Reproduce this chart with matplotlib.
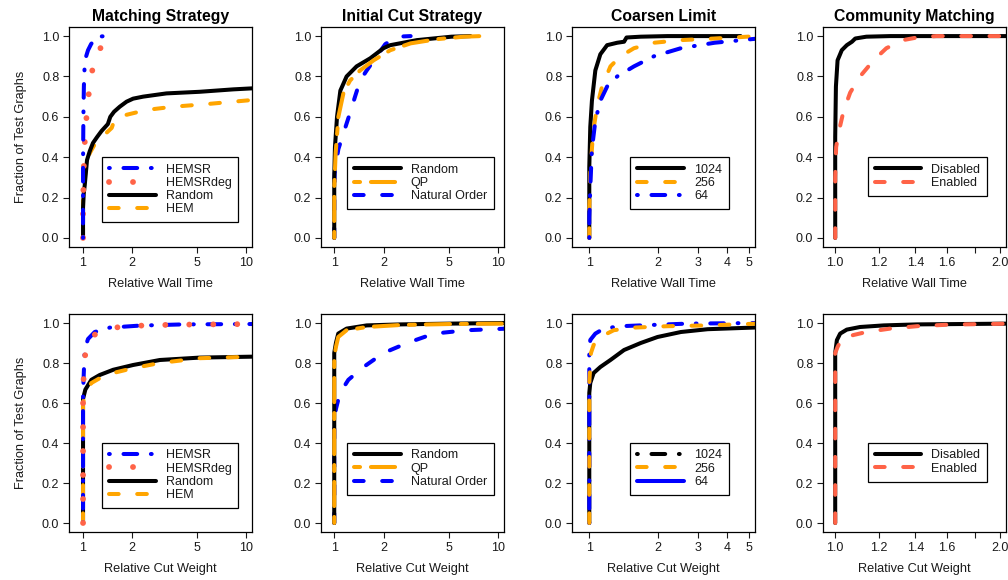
import numpy as np
import matplotlib.pyplot as plt
from matplotlib.lines import Line2D

plt.rcParams['font.family'] = ['Liberation Sans', 'DejaVu Sans']

BLUE = '#0000FF'
ORANGE = '#FFA500'
TOMATO = '#FF6347'

# ---- data (relative value, fraction of graphs) ----
# matching strategy, wall time
ms_wall_hemsr_x = [1.0, 1.0, 1.005, 1.012, 1.024, 1.045, 1.073, 1.12, 1.21, 1.39, 1.53]
ms_wall_hemsr_y = [0.0, 0.37, 0.6, 0.75, 0.865, 0.9, 0.93, 0.96, 0.997, 1.0, 1.0]
ms_wall_deg_x = [1.0, 1.0, 1.005, 1.012, 1.024, 1.048, 1.083, 1.14, 1.25, 1.4, 1.62]
ms_wall_deg_y = [0.0, 0.12, 0.24, 0.36, 0.47, 0.59, 0.71, 0.83, 0.93, 0.98, 0.995]
ms_wall_rand_x = [1.0, 1.0, 1.01, 1.024, 1.058, 1.1, 1.15, 1.22, 1.3, 1.42, 1.47, 1.55, 1.68, 1.85, 2.03, 2.34, 3.25, 5.2, 8.36, 11.5]
ms_wall_rand_y = [0.0, 0.15, 0.22, 0.26, 0.386, 0.43, 0.47, 0.5, 0.53, 0.564, 0.6, 0.625, 0.65, 0.675, 0.69, 0.70, 0.716, 0.724, 0.736, 0.742]
ms_wall_hem_x = [1.0, 1.0, 1.024, 1.06, 1.1, 1.21, 1.39, 1.5, 1.56, 1.7, 1.85, 2.45, 3.57, 5.73, 11.5]
ms_wall_hem_y = [0.0, 0.2, 0.30, 0.37, 0.42, 0.48, 0.52, 0.545, 0.585, 0.6, 0.61, 0.634, 0.65, 0.663, 0.685]

# initial cut strategy, wall time
ic_wall_rand_x = [1.0, 1.0, 1.01, 1.04, 1.09, 1.19, 1.37, 1.66, 2.0, 2.2, 3.2, 5.2, 6.8]
ic_wall_rand_y = [0.0, 0.3, 0.45, 0.60, 0.73, 0.80, 0.85, 0.89, 0.94, 0.955, 0.98, 0.997, 1.0]
ic_wall_qp_x = [1.0, 1.0, 1.02, 1.06, 1.14, 1.25, 1.44, 1.74, 2.2, 2.93, 4.27, 6.2, 7.9]
ic_wall_qp_y = [0.0, 0.25, 0.42, 0.6, 0.72, 0.78, 0.83, 0.88, 0.93, 0.964, 0.985, 0.997, 1.0]
ic_wall_nat_x = [1.0, 1.0, 1.006, 1.03, 1.06, 1.14, 1.25, 1.34, 1.44, 1.58, 1.82, 2.05, 2.42, 2.93]
ic_wall_nat_y = [0.0, 0.2, 0.32, 0.38, 0.44, 0.52, 0.62, 0.70, 0.78, 0.83, 0.90, 0.96, 0.997, 1.0]

# coarsen limit, wall time
cl_wall_1024_x = [1.0, 1.0, 1.01, 1.027, 1.063, 1.118, 1.197, 1.325, 1.42, 1.456, 1.68, 2.2, 4.6]
cl_wall_1024_y = [0.0, 0.35, 0.55, 0.68, 0.83, 0.91, 0.955, 0.967, 0.972, 0.993, 0.997, 1.0, 1.0]
cl_wall_256_x = [1.0, 1.0, 1.01, 1.038, 1.081, 1.137, 1.238, 1.37, 1.57, 1.92, 2.52, 3.54, 5.5]
cl_wall_256_y = [0.0, 0.15, 0.32, 0.52, 0.65, 0.75, 0.85, 0.90, 0.94, 0.967, 0.98, 0.988, 1.0]
cl_wall_64_x = [1.0, 1.0, 1.01, 1.027, 1.063, 1.118, 1.197, 1.325, 1.57, 1.92, 2.52, 3.54, 5.5]
cl_wall_64_y = [0.0, 0.1, 0.25, 0.44, 0.58, 0.68, 0.75, 0.80, 0.85, 0.90, 0.94, 0.967, 0.988]

# community matching, wall time
cm_wall_dis_x = [1.0, 1.0, 1.003, 1.01, 1.028, 1.05, 1.073, 1.088, 1.14, 1.26, 2.1]
cm_wall_dis_y = [0.0, 0.5, 0.75, 0.88, 0.93, 0.955, 0.972, 0.988, 0.997, 1.0, 1.0]
cm_wall_en_x = [1.0, 1.0, 1.004, 1.014, 1.036, 1.065, 1.11, 1.175, 1.24, 1.33, 1.41, 1.53, 2.1]
cm_wall_en_y = [0.0, 0.3, 0.45, 0.52, 0.63, 0.72, 0.80, 0.88, 0.94, 0.98, 0.993, 1.0, 1.0]

# matching strategy, cut weight
ms_cut_hemsr_x = [1.0, 1.0, 1.014, 1.024, 1.073, 1.18, 1.46, 2.23, 4.1, 11.5]
ms_cut_hemsr_y = [0.0, 0.65, 0.78, 0.87, 0.92, 0.955, 0.977, 0.987, 0.993, 0.995]
ms_cut_deg_x = [1.0, 1.0, 1.01, 1.024, 1.1, 1.25, 1.55, 2.1, 3.0, 4.2, 6.0, 8.5, 11.5]
ms_cut_deg_y = [0.0, 0.6, 0.75, 0.83, 0.925, 0.955, 0.977, 0.986, 0.99, 0.992, 0.993, 0.994, 0.995]
ms_cut_rand_x = [1.0, 1.0, 1.033, 1.125, 1.266, 1.53, 2.03, 2.96, 5.2, 11.5]
ms_cut_rand_y = [0.0, 0.62, 0.667, 0.716, 0.74, 0.766, 0.79, 0.815, 0.827, 0.832]
ms_cut_hem_x = [1.0, 1.0, 1.033, 1.125, 1.266, 1.53, 2.03, 2.96, 5.2, 11.5]
ms_cut_hem_y = [0.0, 0.6, 0.65, 0.70, 0.724, 0.75, 0.774, 0.80, 0.824, 0.832]

# initial cut strategy, cut weight
ic_cut_rand_x = [1.0, 1.0, 1.024, 1.058, 1.19, 1.58, 2.54, 5.16, 11.5]
ic_cut_rand_y = [0.0, 0.85, 0.90, 0.947, 0.972, 0.988, 0.993, 0.997, 1.0]
ic_cut_qp_x = [1.0, 1.0, 1.024, 1.058, 1.19, 1.58, 2.54, 5.16, 11.5]
ic_cut_qp_y = [0.0, 0.83, 0.88, 0.93, 0.964, 0.98, 0.99, 0.995, 0.997]
ic_cut_nat_x = [1.0, 1.0, 1.024, 1.084, 1.22, 1.51, 2.0, 2.79, 4.07, 6.5, 11.5]
ic_cut_nat_y = [0.0, 0.5, 0.57, 0.65, 0.716, 0.78, 0.85, 0.90, 0.947, 0.964, 0.972]

# coarsen limit, cut weight
cl_cut_1024_x = [1.0, 1.0, 1.01, 1.045, 1.118, 1.238, 1.42, 1.68, 1.99, 2.52, 3.3, 5.5]
cl_cut_1024_y = [0.0, 0.65, 0.70, 0.75, 0.78, 0.815, 0.865, 0.90, 0.93, 0.955, 0.969, 0.978]
cl_cut_256_x = [1.0, 1.0, 1.017, 1.045, 1.118, 1.28, 1.57, 2.2, 3.3, 5.5]
cl_cut_256_y = [0.0, 0.70, 0.85, 0.89, 0.93, 0.964, 0.977, 0.984, 0.988, 0.997]
cl_cut_64_x = [1.0, 1.0, 1.01, 1.063, 1.157, 1.37, 1.86, 2.7, 5.5]
cl_cut_64_y = [0.0, 0.85, 0.915, 0.947, 0.972, 0.984, 0.99, 0.997, 1.0]

# community matching, cut weight
cm_cut_dis_x = [1.0, 1.0, 1.007, 1.021, 1.05, 1.11, 1.226, 1.41, 2.1]
cm_cut_dis_y = [0.0, 0.85, 0.914, 0.947, 0.967, 0.98, 0.988, 0.993, 0.997]
cm_cut_en_x = [1.0, 1.0, 1.01, 1.028, 1.08, 1.14, 1.26, 1.41, 1.62, 2.1]
cm_cut_en_y = [0.0, 0.85, 0.88, 0.922, 0.94, 0.955, 0.972, 0.984, 0.992, 0.997]

titles = ['Matching Strategy', 'Initial Cut Strategy', 'Coarsen Limit', 'Community Matching']
xlabels = ['Relative Wall Time', 'Relative Cut Weight']
ms_labels = ['HEMSR', 'HEMSRdeg', 'Random', 'HEM']
ic_labels = ['Random', 'QP', 'Natural Order']
cl_labels = ['1024', '256', '64']
cm_labels = ['Disabled', 'Enabled']

xlims = [(0.82, 10.9), (0.83, 10.9), (0.84, 5.32), (0.95, 2.05)]
xticks = [[1, 2, 5, 10], [1, 2, 5, 10], [1, 2, 3, 4, 5], [1.0, 1.2, 1.4, 1.6, 1.8, 2.0]]
xticklabels = [['1', '2', '5', '10'], ['1', '2', '5', '10'], ['1', '2', '3', '4', '5'],
               ['1.0', '1.2', '1.4', '1.6', '', '2.0']]

# line styles (R-like lty, round ends)
LW = 2.9
STY = {
    'solid': dict(ls='-', lw=LW),
    'dashed': dict(ls=(0, (2.4, 4.6)), lw=LW),
    'dotdash': dict(ls=(0, (0.2, 3.4, 3.4, 3.4)), lw=LW),
    'twodash': dict(ls=(0, (1.5, 2.7, 6.0, 2.7)), lw=LW),
    'dotted': dict(ls=(0, (0.01, 4.1)), lw=4.2),
}


def line(ax, x, y, color, sty):
    ax.plot(x, y, color=color, dash_capstyle='round', solid_capstyle='round', **STY[sty])


def handle(color, sty):
    return Line2D([], [], color=color, dash_capstyle='round', solid_capstyle='round', **STY[sty])


fig = plt.figure(figsize=(10.08, 5.8), dpi=100)
W, H = 1008.0, 580.0
lefts = [69, 321, 572, 823]
rows = [(27, 247), (314, 532)]
leg_cx = [0.552, 0.544, 0.588, 0.571]

axes = []
for r, (top, bot) in enumerate(rows):
    for c in range(4):
        ax = fig.add_axes([lefts[c] / W, 1 - bot / H, 183 / W, (bot - top) / H])
        ax.set_xscale('log')
        ax.set_xlim(*xlims[c])
        ax.set_ylim(-0.045, 1.045)
        ax.set_xticks(xticks[c])
        ax.set_xticklabels(xticklabels[c])
        ax.xaxis.set_minor_locator(plt.NullLocator())
        ax.set_yticks([0, 0.2, 0.4, 0.6, 0.8, 1.0])
        ax.set_yticklabels(['0.0', '0.2', '0.4', '0.6', '0.8', '1.0'])
        ax.tick_params(direction='out', length=4.5, width=0.8, labelsize=9, pad=2.5, colors='#1a1a1a')
        ax.tick_params(axis='x', pad=2.5)
        for s in ax.spines.values():
            s.set_linewidth(0.9)
        ax.set_xlabel(xlabels[r], fontsize=9.2, labelpad=6.5, color='#1a1a1a')
        if c == 0:
            ax.set_ylabel('Fraction of Test Graphs', fontsize=9.2, labelpad=11, color='#1a1a1a')
        if r == 0:
            ax.set_title(titles[c], fontsize=11.3, fontweight='bold', pad=4)
        axes.append(ax)

# ---- top row: wall time ----
ax = axes[0]
line(ax, ms_wall_hem_x, ms_wall_hem_y, ORANGE, 'dashed')
line(ax, ms_wall_rand_x, ms_wall_rand_y, 'black', 'solid')
line(ax, ms_wall_deg_x, ms_wall_deg_y, TOMATO, 'dotted')
line(ax, ms_wall_hemsr_x, ms_wall_hemsr_y, BLUE, 'dotdash')

ax = axes[1]
line(ax, ic_wall_nat_x, ic_wall_nat_y, BLUE, 'dashed')
line(ax, ic_wall_rand_x, ic_wall_rand_y, 'black', 'solid')
line(ax, ic_wall_qp_x, ic_wall_qp_y, ORANGE, 'twodash')

ax = axes[2]
line(ax, cl_wall_1024_x, cl_wall_1024_y, 'black', 'solid')
line(ax, cl_wall_256_x, cl_wall_256_y, ORANGE, 'dashed')
line(ax, cl_wall_64_x, cl_wall_64_y, BLUE, 'dotdash')

ax = axes[3]
line(ax, cm_wall_dis_x, cm_wall_dis_y, 'black', 'solid')
line(ax, cm_wall_en_x, cm_wall_en_y, TOMATO, 'dashed')

# ---- bottom row: cut weight ----
ax = axes[4]
line(ax, ms_cut_rand_x, ms_cut_rand_y, 'black', 'solid')
line(ax, ms_cut_hem_x, ms_cut_hem_y, ORANGE, 'dashed')
line(ax, ms_cut_hemsr_x, ms_cut_hemsr_y, BLUE, 'dotdash')
line(ax, ms_cut_deg_x, ms_cut_deg_y, TOMATO, 'dotted')

ax = axes[5]
line(ax, ic_cut_nat_x, ic_cut_nat_y, BLUE, 'dashed')
line(ax, ic_cut_rand_x, ic_cut_rand_y, 'black', 'solid')
line(ax, ic_cut_qp_x, ic_cut_qp_y, ORANGE, 'twodash')

ax = axes[6]
line(ax, cl_cut_1024_x, cl_cut_1024_y, 'black', 'solid')
line(ax, cl_cut_64_x, cl_cut_64_y, BLUE, 'dotdash')
line(ax, cl_cut_256_x, cl_cut_256_y, ORANGE, 'dashed')

ax = axes[7]
line(ax, cm_cut_dis_x, cm_cut_dis_y, 'black', 'solid')
line(ax, cm_cut_en_x, cm_cut_en_y, TOMATO, 'dashed')

# ---- legends ----
ms_h = [handle(BLUE, 'dotdash'), handle(TOMATO, 'dotted'), handle('black', 'solid'), handle(ORANGE, 'dashed')]
ic_h = [handle('black', 'solid'), handle(ORANGE, 'twodash'), handle(BLUE, 'dashed')]
cl_top_h = [handle('black', 'solid'), handle(ORANGE, 'dashed'), handle(BLUE, 'dotdash')]
cl_bot_h = [handle('black', 'dotdash'), handle(ORANGE, 'dashed'), handle(BLUE, 'solid')]
cm_h = [handle('black', 'solid'), handle(TOMATO, 'dashed')]

leg_sets = [(ms_h, ms_labels), (ic_h, ic_labels), (cl_top_h, cl_labels), (cm_h, cm_labels),
            (ms_h, ms_labels), (ic_h, ic_labels), (cl_bot_h, cl_labels), (cm_h, cm_labels)]

for i, (hs, labs) in enumerate(leg_sets):
    leg = axes[i].legend(hs, labs, loc='upper center', bbox_to_anchor=(leg_cx[i % 4], 0.41),
                         fontsize=9, handlelength=3.75, handletextpad=0.8, labelspacing=0.1,
                         borderpad=0.55, borderaxespad=0, fancybox=False, framealpha=1,
                         edgecolor='black')
    leg.get_frame().set_linewidth(0.9)
    for t in leg.get_texts():
        t.set_color('#1a1a1a')

fig.savefig('out.png', dpi=100)
